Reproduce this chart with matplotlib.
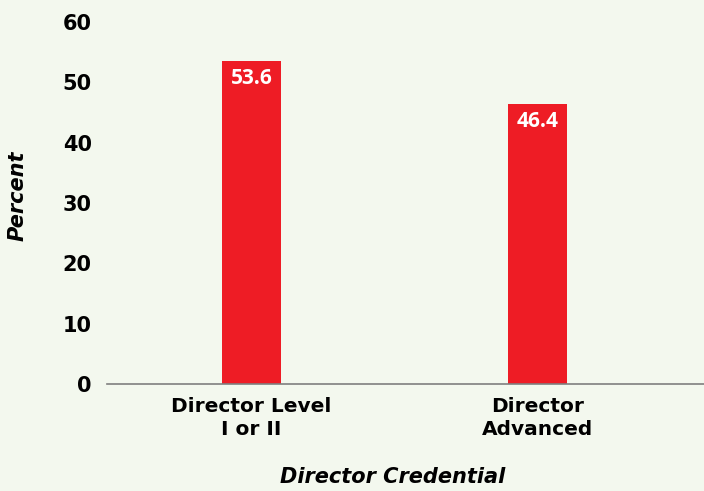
import matplotlib.pyplot as plt

# Chart data
categories = ['Director Level\nI or II', 'Director\nAdvanced']
percents = [53.6, 46.4]
y_ticks = [0, 10, 20, 30, 40, 50, 60]

bg = '#f3f8ee'
bar_color = '#ee1c25'

plt.rcParams['font.family'] = ['DejaVu Sans']

fig = plt.figure(figsize=(7.04, 4.91), dpi=100, facecolor=bg)
ax = fig.add_axes([107 / 704, 107 / 491, 597 / 704, 362 / 491])
ax.set_facecolor(bg)

x = list(range(len(categories)))
bars = ax.bar(x, percents, width=0.206, color=bar_color)

# value labels inside the top of each bar (narrower face, like the original)
for b, v in zip(bars, percents):
    ax.text(b.get_x() + b.get_width() / 2, v - 1.2, f'{v:.1f}',
            ha='center', va='top', color='white', fontsize=15, fontweight='bold',
            family=['Open Sans', 'DejaVu Sans'])

ax.set_xlim(-0.505, 1.582)
ax.set_ylim(0, 60)
ax.set_yticks(y_ticks)
ax.set_yticklabels([str(t) for t in y_ticks], fontsize=15, fontweight='bold')
ax.set_xticks(x)
ax.set_xticklabels(categories, fontsize=14.5, fontweight='bold', linespacing=1.3)
ax.tick_params(axis='y', length=0, pad=11)
ax.tick_params(axis='x', length=0, pad=9)

for s in ['top', 'right', 'left']:
    ax.spines[s].set_visible(False)
ax.spines['bottom'].set_color('#7f7f7f')
ax.spines['bottom'].set_linewidth(1.2)

fig.text(393 / 704, 1 - 477 / 491, 'Director Credential', ha='center', va='center',
         fontsize=15, fontweight='bold', style='italic')
fig.text(18 / 704, 1 - 196 / 491, 'Percent', ha='center', va='center', rotation=90,
         fontsize=15, fontweight='bold', style='italic')

fig.savefig('out.png', dpi=100, facecolor=bg)
